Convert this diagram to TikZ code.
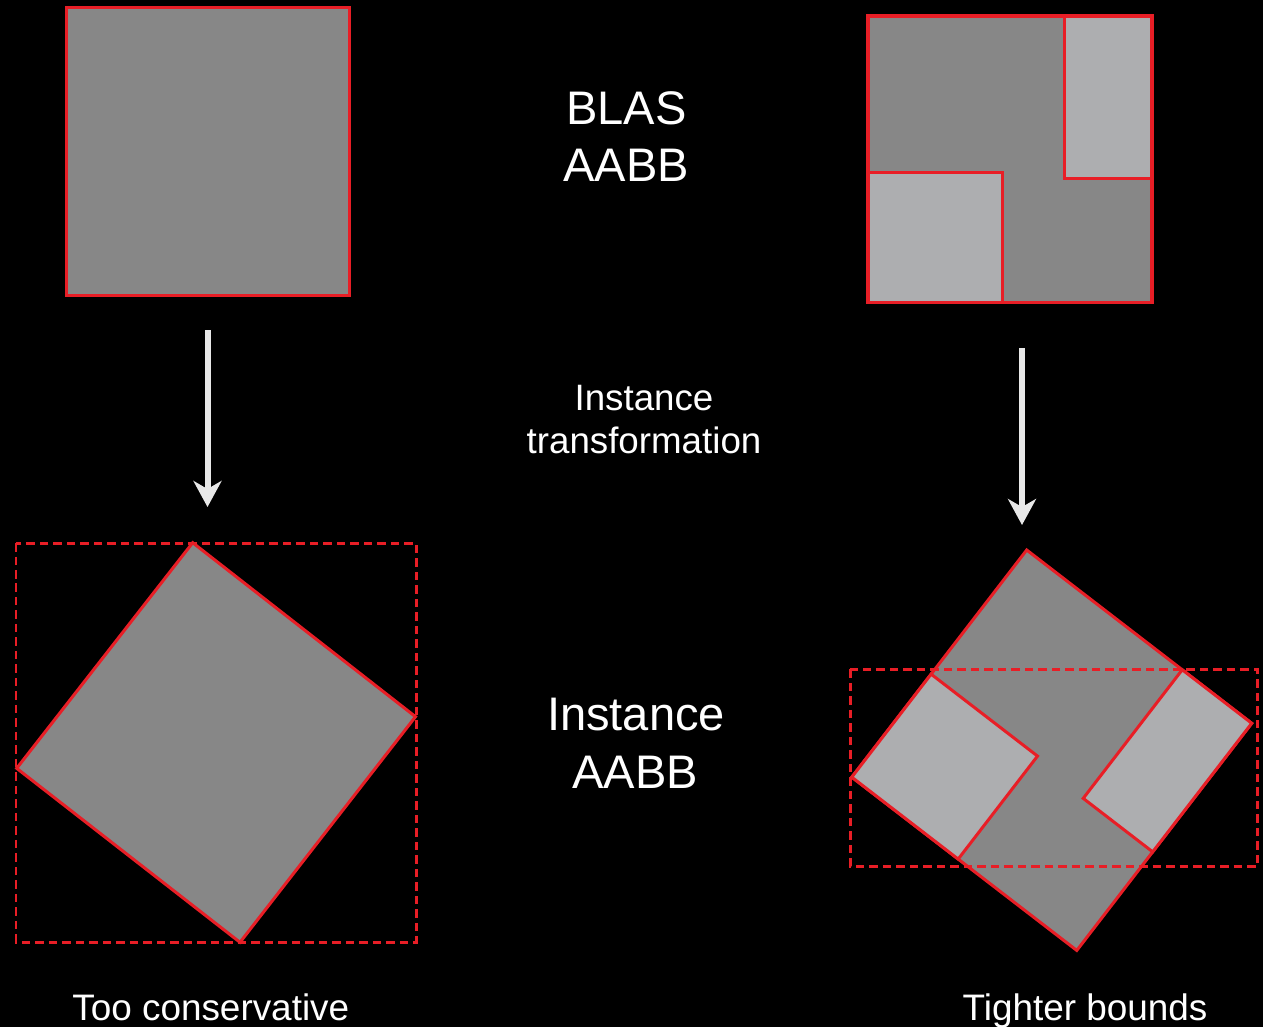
\documentclass[tikz,border=0pt]{standalone}
\usepackage{fontspec}
\setmainfont{Liberation Sans}
\usetikzlibrary{arrows.meta}
\definecolor{bred}{RGB}{232,30,38}
\definecolor{dgray}{RGB}{135,135,135}
\definecolor{lgray}{RGB}{173,174,176}
\definecolor{arrw}{RGB}{232,232,232}
\begin{document}
\begin{tikzpicture}[x=0.02cm,y=-0.02cm,
  box/.style={fill=dgray,draw=bred,line width=0.06cm},
  sub/.style={fill=lgray,draw=bred,line width=0.06cm},
  bound/.style={draw=bred,line width=0.06cm,dash pattern=on 0.17cm off 0.1cm},
  flow/.style={draw=arrw,line width=0.12cm,-{Stealth[length=0.52cm,width=0.56cm,inset=0.16cm]}},
  lbl/.style={text=white,anchor=base,inner sep=0pt},
  big/.style={lbl,font=\fontsize{26.8}{32}\selectfont},
  mid/.style={lbl,font=\fontsize{20.9}{24}\selectfont},
  captxt/.style={lbl,font=\fontsize{21}{24}\selectfont}]
\fill[black] (0,0) rectangle (1263,1027);
\useasboundingbox (0,0) rectangle (1263,1027);

% top-left BLAS box
\path[box] (66,8) rectangle (349,295);

% top-right BLAS box with sub-boxes
\path[fill=dgray] (868,16) rectangle (1152,302.7);
\path[sub] (1064.3,16) rectangle (1152,178.3);
\path[sub] (868,172.7) rectangle (1002.3,302.7);
\draw[bred,line width=0.07cm] (868,16) rectangle (1152,302.7);

% arrows
\coordinate (la) at (207.5,330);
\coordinate (lb) at (207.5,507);
\coordinate (ra) at (1022,348);
\coordinate (rb) at (1022,525);
\draw[flow] (la) -- (lb);
\draw[flow] (ra) -- (rb);

% bottom-left transformed box
\path[box] (192.7,542.7) -- (415.5,716.7) -- (240,942.3) -- (16.7,768.3) -- cycle;
\draw[bound] (16,543) rectangle (416,942);

% bottom-right transformed box
\begin{scope}[shift={(1026.7,550)},rotate=-37.6]
  \path[box] (0,0) rectangle (284,286.7);
  \path[sub] (196.3,0) rectangle (284,162.3);
  \path[sub] (0,156.7) rectangle (134.3,286.7);
\end{scope}
\draw[bound] (850,669.3) rectangle (1257.7,866);

% texts
\node[big] (blas1) at (626.3,125) {BLAS};
\node[big] (blas2) at (626.3,181.7) {AABB};
\node[mid] (tr1) at (644,410) {Instance};
\node[mid] (tr2) at (644,453.3) {transformation};
\node[big] (ia1) at (636,730.7) {Instance};
\node[big] (ia2) at (635,788.3) {AABB};
\node[captxt] (tc) at (210.8,1020.7) {Too conservative};
\node[captxt] (tb) at (1085,1020.7) {Tighter bounds};
\end{tikzpicture}
\end{document}
